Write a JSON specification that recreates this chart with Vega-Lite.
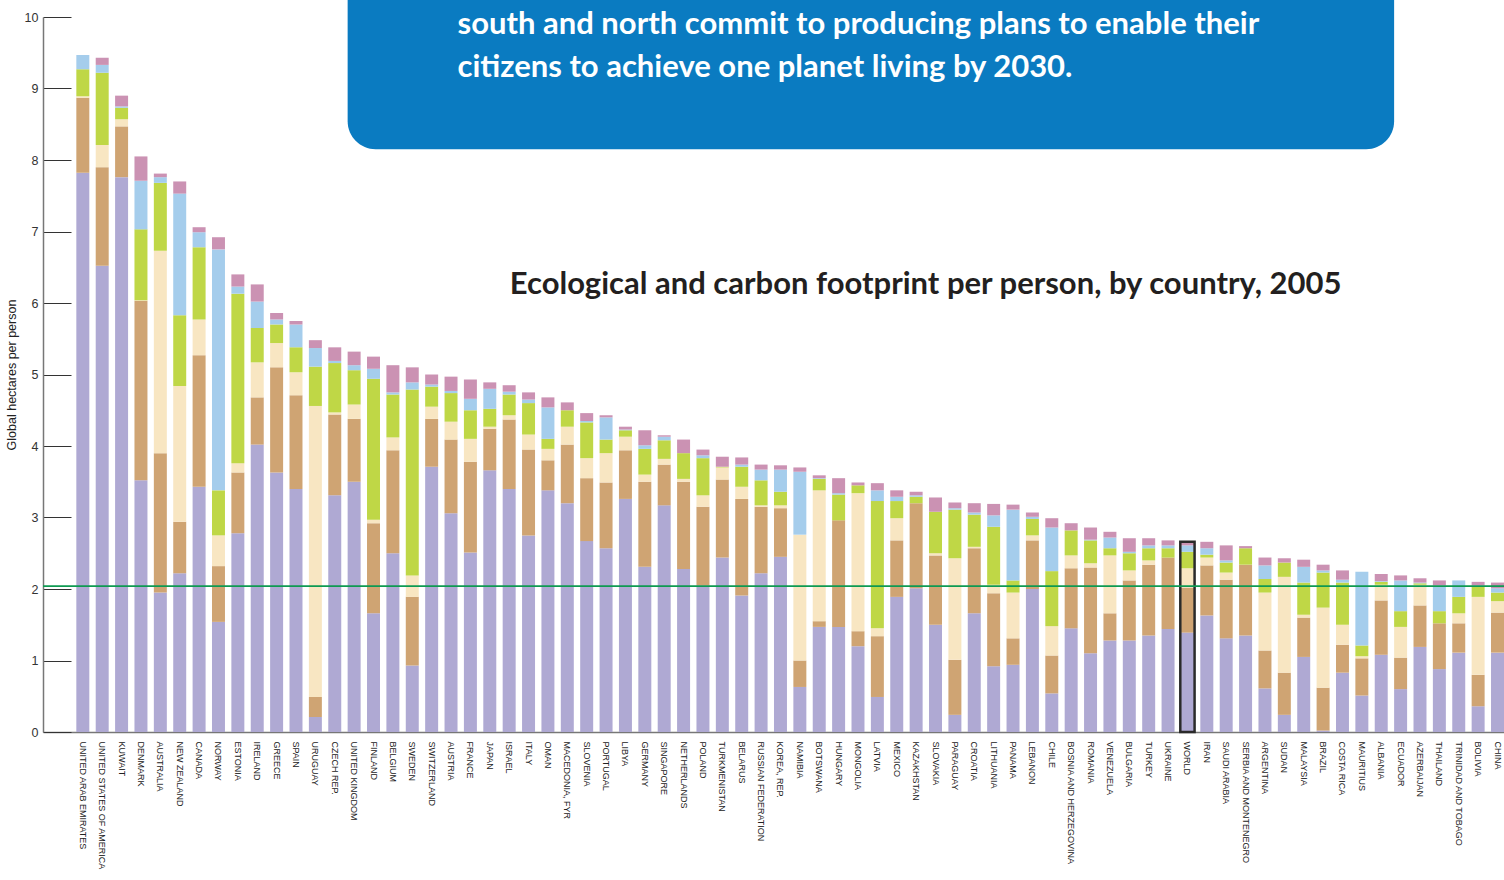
{
  "$schema": "https://vega.github.io/schema/vega-lite/v6.json",
  "width": 1461,
  "height": 715,
  "autosize": {"type": "none"},
  "padding": {"left": 43, "top": 17, "right": 0, "bottom": 148},
  "background": "white",
  "config": {"view": {"stroke": null}, "font": "Liberation Sans"},
  "datasets": {
    "fp": [
      {"country": "UNITED ARAB EMIRATES", "a_carbon": 7.82, "b_cropland": 1.05, "c_grazing": 0.02, "d_forest": 0.38, "e_fishing": 0.20, "f_builtup": 0},
      {"country": "UNITED STATES OF AMERICA", "a_carbon": 6.52, "b_cropland": 1.38, "c_grazing": 0.31, "d_forest": 1.01, "e_fishing": 0.11, "f_builtup": 0.10},
      {"country": "KUWAIT", "a_carbon": 7.76, "b_cropland": 0.71, "c_grazing": 0.10, "d_forest": 0.16, "e_fishing": 0.02, "f_builtup": 0.15},
      {"country": "DENMARK", "a_carbon": 3.52, "b_cropland": 2.51, "c_grazing": 0.01, "d_forest": 0.99, "e_fishing": 0.68, "f_builtup": 0.34},
      {"country": "AUSTRALIA", "a_carbon": 1.95, "b_cropland": 1.95, "c_grazing": 2.83, "d_forest": 0.95, "e_fishing": 0.08, "f_builtup": 0.05},
      {"country": "NEW ZEALAND", "a_carbon": 2.22, "b_cropland": 0.72, "c_grazing": 1.90, "d_forest": 0.99, "e_fishing": 1.70, "f_builtup": 0.17},
      {"country": "CANADA", "a_carbon": 3.43, "b_cropland": 1.84, "c_grazing": 0.50, "d_forest": 1.01, "e_fishing": 0.21, "f_builtup": 0.07},
      {"country": "NORWAY", "a_carbon": 1.54, "b_cropland": 0.78, "c_grazing": 0.43, "d_forest": 0.63, "e_fishing": 3.37, "f_builtup": 0.17},
      {"country": "ESTONIA", "a_carbon": 2.78, "b_cropland": 0.85, "c_grazing": 0.13, "d_forest": 2.37, "e_fishing": 0.10, "f_builtup": 0.17},
      {"country": "IRELAND", "a_carbon": 4.02, "b_cropland": 0.66, "c_grazing": 0.49, "d_forest": 0.48, "e_fishing": 0.37, "f_builtup": 0.24},
      {"country": "GREECE", "a_carbon": 3.63, "b_cropland": 1.47, "c_grazing": 0.34, "d_forest": 0.26, "e_fishing": 0.07, "f_builtup": 0.09},
      {"country": "SPAIN", "a_carbon": 3.40, "b_cropland": 1.31, "c_grazing": 0.32, "d_forest": 0.35, "e_fishing": 0.32, "f_builtup": 0.05},
      {"country": "URUGUAY", "a_carbon": 0.21, "b_cropland": 0.28, "c_grazing": 4.07, "d_forest": 0.55, "e_fishing": 0.26, "f_builtup": 0.11},
      {"country": "CZECH REP.", "a_carbon": 3.31, "b_cropland": 1.13, "c_grazing": 0.03, "d_forest": 0.69, "e_fishing": 0.03, "f_builtup": 0.19},
      {"country": "UNITED KINGDOM", "a_carbon": 3.50, "b_cropland": 0.88, "c_grazing": 0.20, "d_forest": 0.48, "e_fishing": 0.07, "f_builtup": 0.19},
      {"country": "FINLAND", "a_carbon": 1.66, "b_cropland": 1.26, "c_grazing": 0.05, "d_forest": 1.97, "e_fishing": 0.14, "f_builtup": 0.17},
      {"country": "BELGIUM", "a_carbon": 2.50, "b_cropland": 1.44, "c_grazing": 0.18, "d_forest": 0.60, "e_fishing": 0.03, "f_builtup": 0.38},
      {"country": "SWEDEN", "a_carbon": 0.93, "b_cropland": 0.96, "c_grazing": 0.30, "d_forest": 2.60, "e_fishing": 0.10, "f_builtup": 0.21},
      {"country": "SWITZERLAND", "a_carbon": 3.71, "b_cropland": 0.67, "c_grazing": 0.17, "d_forest": 0.28, "e_fishing": 0.03, "f_builtup": 0.14},
      {"country": "AUSTRIA", "a_carbon": 3.06, "b_cropland": 1.03, "c_grazing": 0.25, "d_forest": 0.40, "e_fishing": 0.03, "f_builtup": 0.20},
      {"country": "FRANCE", "a_carbon": 2.51, "b_cropland": 1.27, "c_grazing": 0.32, "d_forest": 0.40, "e_fishing": 0.16, "f_builtup": 0.27},
      {"country": "JAPAN", "a_carbon": 3.66, "b_cropland": 0.58, "c_grazing": 0.03, "d_forest": 0.25, "e_fishing": 0.28, "f_builtup": 0.09},
      {"country": "ISRAEL", "a_carbon": 3.40, "b_cropland": 0.97, "c_grazing": 0.06, "d_forest": 0.29, "e_fishing": 0.04, "f_builtup": 0.09},
      {"country": "ITALY", "a_carbon": 2.75, "b_cropland": 1.20, "c_grazing": 0.21, "d_forest": 0.44, "e_fishing": 0.05, "f_builtup": 0.10},
      {"country": "OMAN", "a_carbon": 3.38, "b_cropland": 0.42, "c_grazing": 0.16, "d_forest": 0.14, "e_fishing": 0.44, "f_builtup": 0.14},
      {"country": "MACEDONIA, FYR", "a_carbon": 3.20, "b_cropland": 0.82, "c_grazing": 0.25, "d_forest": 0.23, "e_fishing": 0, "f_builtup": 0.11},
      {"country": "SLOVENIA", "a_carbon": 2.67, "b_cropland": 0.88, "c_grazing": 0.28, "d_forest": 0.50, "e_fishing": 0.02, "f_builtup": 0.11},
      {"country": "PORTUGAL", "a_carbon": 2.57, "b_cropland": 0.92, "c_grazing": 0.41, "d_forest": 0.19, "e_fishing": 0.31, "f_builtup": 0.03},
      {"country": "LIBYA", "a_carbon": 3.26, "b_cropland": 0.68, "c_grazing": 0.19, "d_forest": 0.09, "e_fishing": 0.01, "f_builtup": 0.04},
      {"country": "GERMANY", "a_carbon": 2.31, "b_cropland": 1.19, "c_grazing": 0.10, "d_forest": 0.36, "e_fishing": 0.05, "f_builtup": 0.21},
      {"country": "SINGAPORE", "a_carbon": 3.17, "b_cropland": 0.57, "c_grazing": 0.08, "d_forest": 0.26, "e_fishing": 0.05, "f_builtup": 0.02},
      {"country": "NETHERLANDS", "a_carbon": 2.28, "b_cropland": 1.22, "c_grazing": 0.04, "d_forest": 0.36, "e_fishing": 0, "f_builtup": 0.19},
      {"country": "POLAND", "a_carbon": 2.05, "b_cropland": 1.10, "c_grazing": 0.16, "d_forest": 0.52, "e_fishing": 0.04, "f_builtup": 0.08},
      {"country": "TURKMENISTAN", "a_carbon": 2.44, "b_cropland": 1.09, "c_grazing": 0.17, "d_forest": 0.01, "e_fishing": 0, "f_builtup": 0.14},
      {"country": "BELARUS", "a_carbon": 1.91, "b_cropland": 1.35, "c_grazing": 0.17, "d_forest": 0.28, "e_fishing": 0.03, "f_builtup": 0.10},
      {"country": "RUSSIAN FEDERATION", "a_carbon": 2.22, "b_cropland": 0.93, "c_grazing": 0.02, "d_forest": 0.35, "e_fishing": 0.15, "f_builtup": 0.07},
      {"country": "KOREA, REP.", "a_carbon": 2.45, "b_cropland": 0.68, "c_grazing": 0.04, "d_forest": 0.19, "e_fishing": 0.31, "f_builtup": 0.06},
      {"country": "NAMIBIA", "a_carbon": 0.63, "b_cropland": 0.37, "c_grazing": 1.76, "d_forest": 0, "e_fishing": 0.88, "f_builtup": 0.06},
      {"country": "BOTSWANA", "a_carbon": 1.47, "b_cropland": 0.08, "c_grazing": 1.83, "d_forest": 0.16, "e_fishing": 0.01, "f_builtup": 0.04},
      {"country": "HUNGARY", "a_carbon": 1.47, "b_cropland": 1.49, "c_grazing": 0, "d_forest": 0.36, "e_fishing": 0.02, "f_builtup": 0.21},
      {"country": "MONGOLIA", "a_carbon": 1.20, "b_cropland": 0.21, "c_grazing": 1.93, "d_forest": 0.11, "e_fishing": 0, "f_builtup": 0.04},
      {"country": "LATVIA", "a_carbon": 0.49, "b_cropland": 0.85, "c_grazing": 0.11, "d_forest": 1.78, "e_fishing": 0.15, "f_builtup": 0.10},
      {"country": "MEXICO", "a_carbon": 1.89, "b_cropland": 0.79, "c_grazing": 0.31, "d_forest": 0.24, "e_fishing": 0.06, "f_builtup": 0.09},
      {"country": "KAZAKHSTAN", "a_carbon": 2.01, "b_cropland": 1.19, "c_grazing": 0, "d_forest": 0.09, "e_fishing": 0.02, "f_builtup": 0.05},
      {"country": "SLOVAKIA", "a_carbon": 1.50, "b_cropland": 0.97, "c_grazing": 0.03, "d_forest": 0.58, "e_fishing": 0, "f_builtup": 0.20},
      {"country": "PARAGUAY", "a_carbon": 0.24, "b_cropland": 0.77, "c_grazing": 1.42, "d_forest": 0.68, "e_fishing": 0.02, "f_builtup": 0.08},
      {"country": "CROATIA", "a_carbon": 1.66, "b_cropland": 0.91, "c_grazing": 0.02, "d_forest": 0.45, "e_fishing": 0.03, "f_builtup": 0.13},
      {"country": "LITHUANIA", "a_carbon": 0.92, "b_cropland": 1.02, "c_grazing": 0.12, "d_forest": 0.81, "e_fishing": 0.16, "f_builtup": 0.16},
      {"country": "PANAMA", "a_carbon": 0.94, "b_cropland": 0.37, "c_grazing": 0.64, "d_forest": 0.17, "e_fishing": 0.99, "f_builtup": 0.07},
      {"country": "LEBANON", "a_carbon": 2.00, "b_cropland": 0.68, "c_grazing": 0.07, "d_forest": 0.23, "e_fishing": 0.03, "f_builtup": 0.06},
      {"country": "CHILE", "a_carbon": 0.54, "b_cropland": 0.53, "c_grazing": 0.41, "d_forest": 0.77, "e_fishing": 0.61, "f_builtup": 0.13},
      {"country": "BOSNIA AND HERZEGOVINA", "a_carbon": 1.45, "b_cropland": 0.84, "c_grazing": 0.18, "d_forest": 0.35, "e_fishing": 0, "f_builtup": 0.10},
      {"country": "ROMANIA", "a_carbon": 1.10, "b_cropland": 1.20, "c_grazing": 0.06, "d_forest": 0.32, "e_fishing": 0.01, "f_builtup": 0.17},
      {"country": "VENEZUELA", "a_carbon": 1.28, "b_cropland": 0.38, "c_grazing": 0.81, "d_forest": 0.10, "e_fishing": 0.15, "f_builtup": 0.08},
      {"country": "BULGARIA", "a_carbon": 1.28, "b_cropland": 0.84, "c_grazing": 0.14, "d_forest": 0.24, "e_fishing": 0.02, "f_builtup": 0.19},
      {"country": "TURKEY", "a_carbon": 1.35, "b_cropland": 0.99, "c_grazing": 0.06, "d_forest": 0.17, "e_fishing": 0.04, "f_builtup": 0.10},
      {"country": "UKRAINE", "a_carbon": 1.44, "b_cropland": 1.00, "c_grazing": 0, "d_forest": 0.13, "e_fishing": 0.04, "f_builtup": 0.07},
      {"country": "WORLD", "a_carbon": 1.39, "b_cropland": 0.63, "c_grazing": 0.27, "d_forest": 0.23, "e_fishing": 0.09, "f_builtup": 0.05},
      {"country": "IRAN", "a_carbon": 1.63, "b_cropland": 0.70, "c_grazing": 0.11, "d_forest": 0.04, "e_fishing": 0.09, "f_builtup": 0.09},
      {"country": "SAUDI ARABIA", "a_carbon": 1.31, "b_cropland": 0.82, "c_grazing": 0.10, "d_forest": 0.14, "e_fishing": 0.03, "f_builtup": 0.21},
      {"country": "SERBIA AND MONTENEGRO", "a_carbon": 1.35, "b_cropland": 0.99, "c_grazing": 0, "d_forest": 0.23, "e_fishing": 0, "f_builtup": 0.03},
      {"country": "ARGENTINA", "a_carbon": 0.61, "b_cropland": 0.53, "c_grazing": 0.81, "d_forest": 0.19, "e_fishing": 0.19, "f_builtup": 0.11},
      {"country": "SUDAN", "a_carbon": 0.24, "b_cropland": 0.59, "c_grazing": 1.34, "d_forest": 0.20, "e_fishing": 0, "f_builtup": 0.06},
      {"country": "MALAYSIA", "a_carbon": 1.05, "b_cropland": 0.55, "c_grazing": 0.04, "d_forest": 0.45, "e_fishing": 0.22, "f_builtup": 0.10},
      {"country": "BRAZIL", "a_carbon": 0.02, "b_cropland": 0.60, "c_grazing": 1.12, "d_forest": 0.49, "e_fishing": 0.03, "f_builtup": 0.08},
      {"country": "COSTA RICA", "a_carbon": 0.83, "b_cropland": 0.39, "c_grazing": 0.28, "d_forest": 0.59, "e_fishing": 0.04, "f_builtup": 0.13},
      {"country": "MAURITIUS", "a_carbon": 0.51, "b_cropland": 0.52, "c_grazing": 0.03, "d_forest": 0.15, "e_fishing": 1.03, "f_builtup": 0},
      {"country": "ALBANIA", "a_carbon": 1.08, "b_cropland": 0.76, "c_grazing": 0.22, "d_forest": 0.04, "e_fishing": 0.01, "f_builtup": 0.10},
      {"country": "ECUADOR", "a_carbon": 0.60, "b_cropland": 0.44, "c_grazing": 0.43, "d_forest": 0.22, "e_fishing": 0.43, "f_builtup": 0.07},
      {"country": "AZERBAIJAN", "a_carbon": 1.19, "b_cropland": 0.58, "c_grazing": 0.29, "d_forest": 0.02, "e_fishing": 0.01, "f_builtup": 0.06},
      {"country": "THAILAND", "a_carbon": 0.88, "b_cropland": 0.64, "c_grazing": 0, "d_forest": 0.17, "e_fishing": 0.36, "f_builtup": 0.07},
      {"country": "TRINIDAD AND TOBAGO", "a_carbon": 1.11, "b_cropland": 0.41, "c_grazing": 0.14, "d_forest": 0.23, "e_fishing": 0.23, "f_builtup": 0},
      {"country": "BOLIVIA", "a_carbon": 0.36, "b_cropland": 0.44, "c_grazing": 1.09, "d_forest": 0.14, "e_fishing": 0.02, "f_builtup": 0.05},
      {"country": "CHINA", "a_carbon": 1.11, "b_cropland": 0.56, "c_grazing": 0.16, "d_forest": 0.12, "e_fishing": 0.06, "f_builtup": 0.08}
    ]
  },
  "layer": [
    {
      "data": {"name": "fp"},
      "transform": [
        {"fold": ["a_carbon", "b_cropland", "c_grazing", "d_forest", "e_fishing", "f_builtup"], "as": ["k", "v"]}
      ],
      "mark": {"type": "bar", "width": {"band": 1}},
      "encoding": {
        "x": {
          "field": "country", "type": "nominal", "sort": null,
          "scale": {"paddingInner": 0.33, "paddingOuter": 0.86, "align": 1},
          "axis": {
            "title": null, "labelAngle": 90, "labelAlign": "left", "labelBaseline": "middle",
            "labelFontSize": 9, "labelPadding": 9, "ticks": false, "domainColor": "#777",
            "domainWidth": 1.5, "labelLimit": 300, "labelOverlap": false, "labelColor": "#222"
          }
        },
        "y": {
          "field": "v", "type": "quantitative", "stack": "zero",
          "scale": {"domain": [0, 10], "nice": false},
          "axis": {
            "title": "Global hectares per person", "titleFontWeight": "normal", "titleFontSize": 12.5,
            "titleColor": "#222", "labelFontSize": 12.5, "labelColor": "#333", "tickSize": -28,
            "tickColor": "#333", "domainColor": "#777", "domainWidth": 1.5, "grid": false, "format": "d",
            "values": [0, 1, 2, 3, 4, 5, 6, 7, 8, 9, 10], "labelPadding": 33, "titlePadding": 6
          }
        },
        "color": {
          "field": "k", "type": "nominal", "legend": null,
          "scale": {
            "domain": ["a_carbon", "b_cropland", "c_grazing", "d_forest", "e_fishing", "f_builtup"],
            "range": ["#afa9d3", "#cfa473", "#f8e6c2", "#bfd746", "#a5cdec", "#cb92b3"]
          }
        },
        "order": {"field": "k", "sort": "ascending"}
      }
    },
    {
      "data": {"name": "fp"},
      "transform": [
        {"filter": "datum.country === 'WORLD'"},
        {"fold": ["a_carbon", "b_cropland", "c_grazing", "d_forest", "e_fishing", "f_builtup"], "as": ["k", "v"]}
      ],
      "mark": {"type": "bar", "fillOpacity": 0, "stroke": "#2a2a2a", "strokeWidth": 2.5, "width": {"band": 1.1}},
      "encoding": {
        "x": {"field": "country", "type": "nominal", "sort": null},
        "y": {"aggregate": "sum", "field": "v", "type": "quantitative"}
      }
    },
    {
      "data": {"values": [{"v": 2.04}]},
      "mark": {"type": "rule", "color": "#0e9a52", "strokeWidth": 1.6},
      "encoding": {"y": {"field": "v", "type": "quantitative"}}
    },
    {
      "data": {"values": [{}]},
      "mark": {"type": "rect", "cornerRadius": 28, "color": "#0a7bc1", "clip": false},
      "encoding": {
        "x": {"datum": "UNITED KINGDOM", "bandPosition": 0},
        "x2": {"datum": "ECUADOR", "bandPosition": 0},
        "y": {"datum": 8.15},
        "y2": {"datum": 10.8}
      }
    },
    {
      "data": {"values": [{"t": "south and north commit to producing plans to enable their", "y": 9.89}, {"t": "citizens to achieve one planet living by 2030.", "y": 9.29}]},
      "mark": {"type": "text", "align": "left", "baseline": "middle", "font": "Lato", "fontWeight": "bold", "fontSize": 31, "color": "white", "clip": false},
      "encoding": {
        "x": {"datum": "AUSTRIA", "bandPosition": 1},
        "y": {"field": "y", "type": "quantitative"},
        "text": {"field": "t"}
      }
    },
    {
      "data": {"values": [{"t": "Ecological and carbon footprint per person, by country, 2005"}]},
      "mark": {"type": "text", "align": "center", "baseline": "middle", "font": "Lato", "fontWeight": "bold", "fontSize": 31, "color": "#231f20", "dx": 3},
      "encoding": {
        "x": {"datum": "KAZAKHSTAN", "bandPosition": 1},
        "y": {"datum": 6.25},
        "text": {"field": "t"}
      }
    }
  ]
}
